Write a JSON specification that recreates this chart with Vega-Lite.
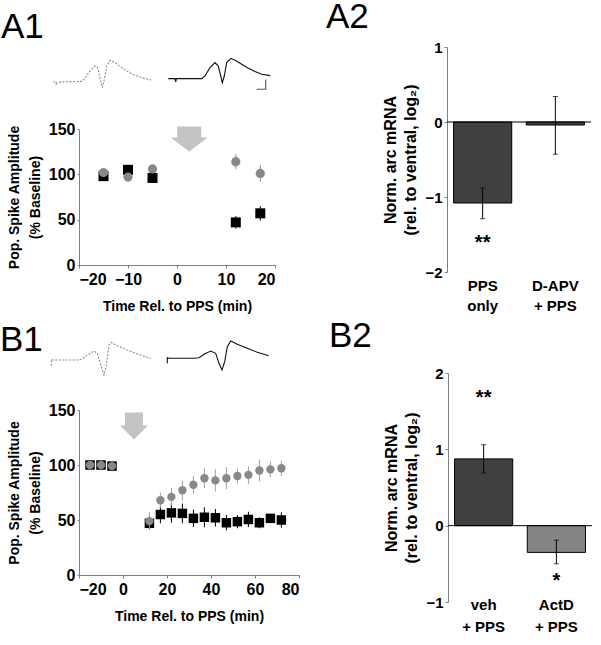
{
  "$schema": "https://vega.github.io/schema/vega-lite/v6.json",
  "background": "white",
  "padding": {"left": 0, "top": 0, "right": 0, "bottom": 0},
  "config": {
    "view": {"stroke": null},
    "font": "Liberation Sans",
    "axis": {"labelFont": "Liberation Sans", "labelFontWeight": "bold", "labelFontSize": 16, "labelColor": "black", "titleFont": "Liberation Sans", "titleFontWeight": "bold", "titleColor": "black", "domainColor": "#808080", "tickColor": "#808080", "grid": false, "tickSize": 3, "labelPadding": 2},
    "title": {"font": "Liberation Sans", "fontWeight": "normal", "fontSize": 35, "anchor": "start", "color": "black", "frame": "group"}
  },
  "vconcat": [
    {
      "hconcat": [
        {
          "vconcat": [
            {
              "title": {"text": "A1", "dx": -78, "offset": 2},
              "width": 196, "height": 38,
              "data": {"values": [
                {"tr": "L", "i": 0, "x": 5.83, "v": 0.23}, {"tr": "L", "i": 1, "x": 6.07, "v": 0.23}, {"tr": "L", "i": 2, "x": 6.13, "v": -0.07}, {"tr": "L", "i": 3, "x": 6.2, "v": 0.23}, {"tr": "L", "i": 4, "x": 7.67, "v": 0.27}, {"tr": "L", "i": 5, "x": 8.73, "v": 0.3}, {"tr": "L", "i": 6, "x": 9.0, "v": 0.6}, {"tr": "L", "i": 7, "x": 9.5, "v": 1.33}, {"tr": "L", "i": 8, "x": 10.0, "v": 1.83}, {"tr": "L", "i": 9, "x": 10.27, "v": 1.67}, {"tr": "L", "i": 10, "x": 10.5, "v": 0.67}, {"tr": "L", "i": 11, "x": 10.73, "v": -0.33}, {"tr": "L", "i": 12, "x": 10.9, "v": 0.33}, {"tr": "L", "i": 13, "x": 11.17, "v": 1.83}, {"tr": "L", "i": 14, "x": 11.5, "v": 2.4}, {"tr": "L", "i": 15, "x": 12.0, "v": 2.17}, {"tr": "L", "i": 16, "x": 12.67, "v": 1.67}, {"tr": "L", "i": 17, "x": 13.33, "v": 1.23}, {"tr": "L", "i": 18, "x": 14.0, "v": 0.9}, {"tr": "L", "i": 19, "x": 14.67, "v": 0.67}, {"tr": "L", "i": 20, "x": 15.6, "v": 0.43},
                {"tr": "R", "i": 0, "x": 17.33, "v": 0.57}, {"tr": "R", "i": 1, "x": 18.0, "v": 0.57}, {"tr": "R", "i": 2, "x": 18.07, "v": 0.23}, {"tr": "R", "i": 3, "x": 18.13, "v": 0.57}, {"tr": "R", "i": 4, "x": 20.67, "v": 0.57}, {"tr": "R", "i": 5, "x": 21.0, "v": 0.83}, {"tr": "R", "i": 6, "x": 21.5, "v": 1.67}, {"tr": "R", "i": 7, "x": 22.0, "v": 2.17}, {"tr": "R", "i": 8, "x": 22.33, "v": 1.83}, {"tr": "R", "i": 9, "x": 22.57, "v": 0.83}, {"tr": "R", "i": 10, "x": 22.73, "v": 0.17}, {"tr": "R", "i": 11, "x": 22.93, "v": 0.83}, {"tr": "R", "i": 12, "x": 23.17, "v": 2.17}, {"tr": "R", "i": 13, "x": 23.6, "v": 2.6}, {"tr": "R", "i": 14, "x": 24.0, "v": 2.4}, {"tr": "R", "i": 15, "x": 24.67, "v": 2.0}, {"tr": "R", "i": 16, "x": 25.33, "v": 1.6}, {"tr": "R", "i": 17, "x": 26.0, "v": 1.27}, {"tr": "R", "i": 18, "x": 26.67, "v": 1.0}, {"tr": "R", "i": 19, "x": 27.53, "v": 0.87},
                {"tr": "S", "i": 0, "x": 27.07, "v": 0.47}, {"tr": "S", "i": 1, "x": 27.07, "v": -0.5}, {"tr": "S", "i": 2, "x": 26.17, "v": -0.5}
              ]},
              "encoding": {
                "x": {"field": "x", "type": "quantitative", "scale": {"domain": [8.4, 28.0], "zero": false, "nice": false}, "axis": null},
                "y": {"field": "v", "type": "quantitative", "scale": {"domain": [-0.07, 3.73], "zero": false, "nice": false}, "axis": null},
                "order": {"field": "i"}
              },
              "layer": [
                {"transform": [{"filter": "datum.tr == 'L'"}], "mark": {"type": "line", "strokeWidth": 1.1, "color": "#8a8a8a", "strokeDash": [2, 1.5]}},
                {"transform": [{"filter": "datum.tr == 'R'"}], "mark": {"type": "line", "strokeWidth": 1.1, "color": "#111111"}},
                {"transform": [{"filter": "datum.tr == 'S'"}], "mark": {"type": "line", "strokeWidth": 1.1, "color": "#555555"}}
              ]
            },
            {
              "width": 196, "height": 136,
              "data": {"values": [
                {"s": "sq", "t": -15, "y": 98, "e": 1}, {"s": "sq", "t": -10, "y": 105, "e": 1}, {"s": "sq", "t": -5, "y": 96, "e": 1}, {"s": "sq", "t": 12, "y": 47, "e": 7}, {"s": "sq", "t": 17, "y": 57, "e": 8},
                {"s": "ci", "t": -15, "y": 102, "e": 1}, {"s": "ci", "t": -10, "y": 97, "e": 1}, {"s": "ci", "t": -5, "y": 106, "e": 1}, {"s": "ci", "t": 12, "y": 114, "e": 8}, {"s": "ci", "t": 17, "y": 101, "e": 9}
              ]},
              "transform": [{"calculate": "datum.y - datum.e", "as": "lo"}, {"calculate": "datum.y + datum.e", "as": "hi"}],
              "encoding": {
                "x": {"field": "t", "type": "quantitative", "scale": {"domain": [-20, 20], "nice": false}, "axis": {"values": [-20, -10, 0, 10, 20], "title": "Time Rel. to PPS (min)", "titleFontSize": 14, "titlePadding": 12, "labelPadding": 3}},
                "y": {"field": "y", "type": "quantitative", "scale": {"domain": [0, 150], "nice": false}, "axis": {"values": [0, 50, 100, 150], "title": ["Pop. Spike Amplitude", "(% Baseline)"], "titleFontSize": 14, "titleLineHeight": 21, "titlePadding": 6, "tickSize": 2}}
              },
              "layer": [
                {
                  "data": {"values": [{"t": 2.5, "y": 139}]},
                  "transform": [],
                  "mark": {"type": "point", "filled": true, "color": "#c4c4c4", "opacity": 1, "size": 1369, "shape": "M-0.65,-0.68L0.65,-0.68L0.65,-0.08L1,-0.08L0,0.68L-1,-0.08L-0.65,-0.08Z"},
                  "encoding": {}
                },
                {
                  "transform": [{"filter": "datum.s == 'sq'"}],
                  "mark": {"type": "rule", "strokeWidth": 1, "color": "#000000"},
                  "encoding": {"y": {"field": "lo", "type": "quantitative"}, "y2": {"field": "hi"}}
                },
                {
                  "transform": [{"filter": "datum.s == 'sq'"}],
                  "mark": {"type": "point", "filled": true, "opacity": 1, "shape": "square", "size": 100, "color": "#000000"}
                },
                {
                  "transform": [{"filter": "datum.s == 'ci'"}],
                  "mark": {"type": "rule", "strokeWidth": 1, "color": "#888888"},
                  "encoding": {"y": {"field": "lo", "type": "quantitative"}, "y2": {"field": "hi"}}
                },
                {
                  "transform": [{"filter": "datum.s == 'ci'"}],
                  "mark": {"type": "point", "filled": true, "opacity": 1, "shape": "circle", "size": 85, "color": "#888888"}
                }
              ]
            }
          ],
          "spacing": 29
        },
        {
          "title": {"text": "A2", "dx": -121, "offset": 5},
          "width": 144, "height": 225,
          "data": {"values": [
            {"g": "PPS|only", "m": -1.08, "lo": -1.29, "hi": -0.88, "star": "**", "sy": -1.61},
            {"g": "D-APV|+ PPS", "m": -0.04, "lo": -0.43, "hi": 0.34, "star": "", "sy": 0}
          ]},
          "layer": [
            {
              "mark": {"type": "bar", "stroke": "#000000", "strokeWidth": 1, "color": "#404040"},
              "encoding": {
                "x": {"field": "g", "type": "nominal", "sort": null, "scale": {"paddingInner": 0.2, "paddingOuter": 0.09}, "axis": {"title": null, "domain": false, "ticks": false, "labelAngle": 0, "labelExpr": "split(datum.label, '|')", "labelLineHeight": 20, "labelFontSize": 15, "labelPadding": 6}},
                "y": {"field": "m", "type": "quantitative", "scale": {"domain": [-2, 1], "nice": false}, "axis": {"values": [-2, -1, 0, 1], "format": "d", "title": ["Norm. arc mRNA", "(rel. to ventral, log₂)"], "titleFontSize": 16, "titleLineHeight": 20, "titlePadding": 6, "labelFontSize": 15, "tickSize": 3}}
              }
            },
            {
              "data": {"values": [{"z": 0}]},
              "mark": {"type": "rule", "color": "#000000", "strokeWidth": 1},
              "encoding": {"y": {"field": "z", "type": "quantitative"}}
            },
            {
              "mark": {"type": "rule", "color": "#000000", "strokeWidth": 1},
              "encoding": {"x": {"field": "g", "type": "nominal", "sort": null}, "y": {"field": "lo", "type": "quantitative"}, "y2": {"field": "hi"}}
            },
            {
              "mark": {"type": "tick", "color": "#000000", "size": 5, "thickness": 1},
              "encoding": {"x": {"field": "g", "type": "nominal", "sort": null}, "y": {"field": "lo", "type": "quantitative"}}
            },
            {
              "mark": {"type": "tick", "color": "#000000", "size": 5, "thickness": 1},
              "encoding": {"x": {"field": "g", "type": "nominal", "sort": null}, "y": {"field": "hi", "type": "quantitative"}}
            },
            {
              "mark": {"type": "text", "fontSize": 20, "fontWeight": "bold", "color": "#000000"},
              "encoding": {"x": {"field": "g", "type": "nominal", "sort": null}, "y": {"field": "sy", "type": "quantitative"}, "text": {"field": "star"}}
            }
          ]
        }
      ],
      "spacing": 50
    },
    {
      "hconcat": [
        {
          "vconcat": [
            {
              "title": {"text": "B1", "dx": -79, "offset": -19},
              "width": 220, "height": 23,
              "data": {"values": [
                {"tr": "L", "i": 0, "x": 5.73, "v": -0.57}, {"tr": "L", "i": 1, "x": 5.73, "v": 0.07}, {"tr": "L", "i": 2, "x": 5.87, "v": 0}, {"tr": "L", "i": 3, "x": 8.5, "v": 0}, {"tr": "L", "i": 4, "x": 8.83, "v": 0.1}, {"tr": "L", "i": 5, "x": 9.33, "v": 0.5}, {"tr": "L", "i": 6, "x": 10.0, "v": 0.9}, {"tr": "L", "i": 7, "x": 10.33, "v": 0.67}, {"tr": "L", "i": 8, "x": 10.67, "v": -0.5}, {"tr": "L", "i": 9, "x": 11.0, "v": -1.5}, {"tr": "L", "i": 10, "x": 11.23, "v": -0.5}, {"tr": "L", "i": 11, "x": 11.5, "v": 1.5}, {"tr": "L", "i": 12, "x": 11.73, "v": 1.77}, {"tr": "L", "i": 13, "x": 12.33, "v": 1.43}, {"tr": "L", "i": 14, "x": 13.33, "v": 1.0}, {"tr": "L", "i": 15, "x": 14.33, "v": 0.6}, {"tr": "L", "i": 16, "x": 15.67, "v": 0.17},
                {"tr": "R", "i": 0, "x": 17.33, "v": -0.33}, {"tr": "R", "i": 1, "x": 17.33, "v": 0.23}, {"tr": "R", "i": 2, "x": 17.47, "v": 0.17}, {"tr": "R", "i": 3, "x": 20.0, "v": 0.17}, {"tr": "R", "i": 4, "x": 20.5, "v": 0.23}, {"tr": "R", "i": 5, "x": 21.0, "v": 0.57}, {"tr": "R", "i": 6, "x": 21.67, "v": 0.9}, {"tr": "R", "i": 7, "x": 22.17, "v": 0.67}, {"tr": "R", "i": 8, "x": 22.5, "v": -0.33}, {"tr": "R", "i": 9, "x": 22.8, "v": -1.0}, {"tr": "R", "i": 10, "x": 23.07, "v": -0.17}, {"tr": "R", "i": 11, "x": 23.33, "v": 1.33}, {"tr": "R", "i": 12, "x": 23.67, "v": 1.9}, {"tr": "R", "i": 13, "x": 24.33, "v": 1.57}, {"tr": "R", "i": 14, "x": 25.33, "v": 1.17}, {"tr": "R", "i": 15, "x": 26.33, "v": 0.77}, {"tr": "R", "i": 16, "x": 27.47, "v": 0.43}
              ]},
              "encoding": {
                "x": {"field": "x", "type": "quantitative", "scale": {"domain": [8.5, 30.5], "zero": false, "nice": false}, "axis": null},
                "y": {"field": "v", "type": "quantitative", "scale": {"domain": [-3.6, -1.3], "zero": false, "nice": false}, "axis": null},
                "order": {"field": "i"}
              },
              "layer": [
                {"transform": [{"filter": "datum.tr == 'L'"}], "mark": {"type": "line", "strokeWidth": 1.1, "color": "#8a8a8a", "strokeDash": [2, 1.5]}},
                {"transform": [{"filter": "datum.tr == 'R'"}], "mark": {"type": "line", "strokeWidth": 1.1, "color": "#111111"}}
              ]
            },
            {
              "width": 220, "height": 165,
              "data": {"values": [
                {"s": "sq", "t": -15, "y": 100, "e": 2}, {"s": "sq", "t": -10, "y": 100, "e": 2}, {"s": "sq", "t": -5, "y": 99, "e": 2}, {"s": "sq", "t": 12, "y": 47, "e": 6}, {"s": "sq", "t": 17, "y": 55, "e": 8}, {"s": "sq", "t": 22, "y": 56.5, "e": 9}, {"s": "sq", "t": 27, "y": 56, "e": 9}, {"s": "sq", "t": 32, "y": 51.5, "e": 8}, {"s": "sq", "t": 37, "y": 52.5, "e": 9}, {"s": "sq", "t": 42, "y": 52, "e": 8}, {"s": "sq", "t": 47, "y": 47.5, "e": 7}, {"s": "sq", "t": 52, "y": 48.5, "e": 6}, {"s": "sq", "t": 57, "y": 50.5, "e": 7}, {"s": "sq", "t": 62, "y": 47.5, "e": 5}, {"s": "sq", "t": 67, "y": 51.5, "e": 4}, {"s": "sq", "t": 72, "y": 50, "e": 7},
                {"s": "ci", "t": -15, "y": 100, "e": 3}, {"s": "ci", "t": -10, "y": 100, "e": 3}, {"s": "ci", "t": -5, "y": 99, "e": 3}, {"s": "ci", "t": 12, "y": 49, "e": 8}, {"s": "ci", "t": 17, "y": 68, "e": 7}, {"s": "ci", "t": 22, "y": 71, "e": 8}, {"s": "ci", "t": 27, "y": 77, "e": 9}, {"s": "ci", "t": 32, "y": 82, "e": 8}, {"s": "ci", "t": 37, "y": 88, "e": 9}, {"s": "ci", "t": 42, "y": 86, "e": 10}, {"s": "ci", "t": 47, "y": 88, "e": 10}, {"s": "ci", "t": 52, "y": 90, "e": 7}, {"s": "ci", "t": 57, "y": 91, "e": 8}, {"s": "ci", "t": 62, "y": 95, "e": 10}, {"s": "ci", "t": 67, "y": 96, "e": 7}, {"s": "ci", "t": 72, "y": 97, "e": 7}
              ]},
              "transform": [{"calculate": "datum.y - datum.e", "as": "lo"}, {"calculate": "datum.y + datum.e", "as": "hi"}],
              "encoding": {
                "x": {"field": "t", "type": "quantitative", "scale": {"domain": [-20, 80], "nice": false}, "axis": {"values": [-20, 0, 20, 40, 60, 80], "title": "Time Rel. to PPS (min)", "titleFontSize": 14, "titlePadding": 12, "labelPadding": 3}},
                "y": {"field": "y", "type": "quantitative", "scale": {"domain": [0, 150], "nice": false}, "axis": {"values": [0, 50, 100, 150], "title": ["Pop. Spike Amplitude", "(% Baseline)"], "titleFontSize": 14, "titleLineHeight": 21, "titlePadding": 6, "tickSize": 2}}
              },
              "layer": [
                {
                  "data": {"values": [{"t": 5, "y": 135.5}]},
                  "transform": [],
                  "mark": {"type": "point", "filled": true, "color": "#c4c4c4", "opacity": 1, "size": 784, "shape": "M-0.64,-0.96L0.64,-0.96L0.64,-0.03L1,-0.03L0,0.96L-1,-0.03L-0.64,-0.03Z"},
                  "encoding": {}
                },
                {
                  "transform": [{"filter": "datum.s == 'sq'"}],
                  "mark": {"type": "rule", "strokeWidth": 1, "color": "#000000"},
                  "encoding": {"y": {"field": "lo", "type": "quantitative"}, "y2": {"field": "hi"}}
                },
                {
                  "transform": [{"filter": "datum.s == 'sq'"}],
                  "mark": {"type": "point", "filled": true, "opacity": 1, "shape": "square", "size": 90, "color": "#000000"}
                },
                {
                  "transform": [{"filter": "datum.s == 'ci'"}],
                  "mark": {"type": "rule", "strokeWidth": 1, "color": "#a0a0a0"},
                  "encoding": {"y": {"field": "lo", "type": "quantitative"}, "y2": {"field": "hi"}}
                },
                {
                  "transform": [{"filter": "datum.s == 'ci'"}],
                  "mark": {"type": "point", "filled": true, "opacity": 1, "shape": "circle", "size": 70, "color": "#888888"}
                }
              ]
            }
          ],
          "spacing": 6
        },
        {
          "title": {"text": "B2", "dx": -119, "offset": 12},
          "width": 144, "height": 229,
          "data": {"values": [
            {"g": "veh|+ PPS", "m": 0.875, "lo": 0.69, "hi": 1.06, "star": "**", "sy": 1.67},
            {"g": "ActD|+ PPS", "m": -0.35, "lo": -0.5, "hi": -0.19, "star": "*", "sy": -0.72}
          ]},
          "layer": [
            {
              "mark": {"type": "bar", "stroke": "#000000", "strokeWidth": 1},
              "encoding": {
                "x": {"field": "g", "type": "nominal", "sort": null, "scale": {"paddingInner": 0.2, "paddingOuter": 0.09}, "axis": {"title": null, "domain": false, "ticks": false, "labelAngle": 0, "labelExpr": "split(datum.label, '|')", "labelLineHeight": 22, "labelFontSize": 15, "labelPadding": -5}},
                "y": {"field": "m", "type": "quantitative", "scale": {"domain": [-1, 2], "nice": false}, "axis": {"values": [-1, 0, 1, 2], "format": "d", "title": ["Norm. arc mRNA", "(rel. to ventral, log₂)"], "titleFontSize": 16, "titleLineHeight": 20, "titlePadding": 6, "labelFontSize": 15, "tickSize": 3}},
                "color": {"condition": {"test": "datum.m < 0", "value": "#858585"}, "value": "#404040"}
              }
            },
            {
              "data": {"values": [{"z": 0}]},
              "mark": {"type": "rule", "color": "#000000", "strokeWidth": 1},
              "encoding": {"y": {"field": "z", "type": "quantitative"}}
            },
            {
              "mark": {"type": "rule", "color": "#000000", "strokeWidth": 1},
              "encoding": {"x": {"field": "g", "type": "nominal", "sort": null}, "y": {"field": "lo", "type": "quantitative"}, "y2": {"field": "hi"}}
            },
            {
              "mark": {"type": "tick", "color": "#000000", "size": 5, "thickness": 1},
              "encoding": {"x": {"field": "g", "type": "nominal", "sort": null}, "y": {"field": "lo", "type": "quantitative"}}
            },
            {
              "mark": {"type": "tick", "color": "#000000", "size": 5, "thickness": 1},
              "encoding": {"x": {"field": "g", "type": "nominal", "sort": null}, "y": {"field": "hi", "type": "quantitative"}}
            },
            {
              "mark": {"type": "text", "fontSize": 20, "fontWeight": "bold", "color": "#000000"},
              "encoding": {"x": {"field": "g", "type": "nominal", "sort": null}, "y": {"field": "sy", "type": "quantitative"}, "text": {"field": "star"}}
            }
          ]
        }
      ],
      "spacing": 29
    }
  ],
  "spacing": 6
}
